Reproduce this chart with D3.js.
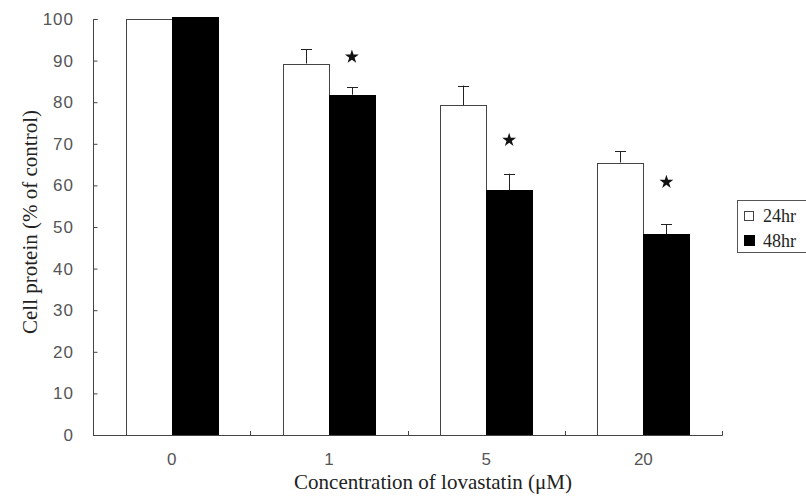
<!DOCTYPE html>
<html>
<head>
<meta charset="utf-8">
<script src="https://cdn.jsdelivr.net/npm/d3@7"></script>
<style>
  body { margin: 0; background: #fff; }
  .tick-label { font-family: "Liberation Sans", Arial, sans-serif; font-size: 17px; fill: #555; }
  .title { font-family: "Liberation Serif", "Times New Roman", serif; font-size: 21px; fill: #222; }
  .legend-text { font-family: "Liberation Serif", "Times New Roman", serif; font-size: 18px; fill: #222; }
</style>
</head>
<body>
<div id="chart"></div>
<script>
// Cell protein bar chart with error bars

const concentrations = ["0", "1", "5", "20"];
const series = ["24hr", "48hr"];
const values24 = [100, 89.3, 79.3, 65.5];
const values48 = [100.4, 81.8, 58.8, 48.2];
const errors24 = [0, 3.4, 4.7, 2.7];
const errors48 = [0, 1.8, 4.0, 2.5];
const starGroups = ["1", "5", "20"];
const starLevels = [90.9, 70.9, 60.8];
const yTicks = [0, 10, 20, 30, 40, 50, 60, 70, 80, 90, 100];

const W = 806, H = 501;
const plot = {left: 93, right: 722, top: 19, bottom: 435};

const svg = d3.select("#chart").append("svg")
  .attr("width", W)
  .attr("height", H);

const x0 = d3.scaleBand().domain(concentrations).range([plot.left, plot.right]).paddingInner(0).paddingOuter(0);
const x1 = d3.scaleBand().domain(series).range([0, x0.bandwidth()]).paddingInner(0).paddingOuter(0.707);
const y = d3.scaleLinear().domain([0, 100]).range([plot.bottom, plot.top]);

// rows for each bar
const bars = [];
concentrations.forEach((c, i) => {
  bars.push({ c: c, s: "24hr", v: values24[i], e: errors24[i] });
  bars.push({ c: c, s: "48hr", v: values48[i], e: errors48[i] });
});

const barMid = d => x0(d.c) + x1(d.s) + x1.bandwidth() / 2;

// error bars (drawn first, only upward part visible)
const errs = bars.filter(d => d.e > 0);
svg.selectAll(".err")
  .data(errs)
  .enter().append("line")
    .attr("x1", d => Math.round(barMid(d)) + 0.5)
    .attr("x2", d => Math.round(barMid(d)) + 0.5)
    .attr("y1", d => y(d.v))
    .attr("y2", d => y(d.v + d.e))
    .attr("stroke", "#222")
    .attr("stroke-width", 1);
svg.selectAll(".cap")
  .data(errs)
  .enter().append("line")
    .attr("x1", d => Math.round(barMid(d)) - 5)
    .attr("x2", d => Math.round(barMid(d)) + 6)
    .attr("y1", d => Math.round(y(d.v + d.e)) + 0.5)
    .attr("y2", d => Math.round(y(d.v + d.e)) + 0.5)
    .attr("stroke", "#222")
    .attr("stroke-width", 1);

// bars
svg.selectAll(".bar")
  .data(bars)
  .enter().append("rect")
    .attr("x", d => Math.round(x0(d.c) + x1(d.s)) + 0.5)
    .attr("y", d => Math.round(y(d.v)) + 0.5)
    .attr("width", Math.round(x1.bandwidth()))
    .attr("height", d => Math.round(y(0) - y(d.v)))
    .attr("fill", d => d.s === "24hr" ? "#fff" : "#000")
    .attr("stroke", d => d.s === "24hr" ? "#444" : "#000")
    .attr("stroke-width", 1);

// significance stars
svg.selectAll(".star")
  .data(starGroups)
  .enter().append("path")
    .attr("d", d3.symbol().type(d3.symbolStar).size(60))
    .attr("transform", (d, i) => `translate(${x0(d) + x1("48hr") + x1.bandwidth() / 2},${y(starLevels[i])})`)
    .attr("fill", "#111");

// y axis
const yAxis = svg.append("g")
  .attr("transform", `translate(${plot.left + 0.5},0)`)
  .call(d3.axisRight(y).tickValues(yTicks).tickSize(4).tickFormat(""));
yAxis.select(".domain").attr("stroke", "#444").attr("d", `M4,${plot.top + 0.5}H0V${plot.bottom}`);
yAxis.selectAll(".tick line").attr("stroke", "#444");

svg.selectAll(".ylab")
  .data(yTicks)
  .enter().append("text")
    .attr("class", "tick-label")
    .attr("x", 74)
    .attr("y", d => y(d) + 6)
    .attr("text-anchor", "end")
    .style("letter-spacing", "1px")
    .text(d => d);

// x axis line with separator ticks
svg.append("line")
  .attr("x1", plot.left).attr("x2", plot.right + 0.5)
  .attr("y1", plot.bottom + 0.5).attr("y2", plot.bottom + 0.5)
  .attr("stroke", "#444");
svg.selectAll(".xsep")
  .data(concentrations)
  .enter().append("line")
    .attr("x1", d => Math.round(x0(d) + x0.bandwidth()) + 0.5)
    .attr("x2", d => Math.round(x0(d) + x0.bandwidth()) + 0.5)
    .attr("y1", plot.bottom + 0.5)
    .attr("y2", plot.bottom - 4)
    .attr("stroke", "#444");

svg.selectAll(".xlab")
  .data(concentrations)
  .enter().append("text")
    .attr("class", "tick-label")
    .attr("x", d => x0(d) + x0.bandwidth() / 2)
    .attr("y", 465)
    .attr("text-anchor", "middle")
    .text(d => d);

// axis titles
svg.append("text")
  .attr("class", "title")
  .attr("text-anchor", "middle")
  .attr("x", 433)
  .attr("y", 489)
  .text("Concentration of lovastatin (\u03bcM)");

svg.append("text")
  .attr("class", "title")
  .attr("text-anchor", "middle")
  .attr("transform", `translate(37,222) rotate(-90)`)
  .text("Cell protein (% of control)");

// legend
const lg = svg.append("g").attr("transform", "translate(737,200)");
lg.append("rect")
  .attr("x", 0.5).attr("y", 0.5)
  .attr("width", 80).attr("height", 52)
  .attr("fill", "#fff")
  .attr("stroke", "#555");
series.forEach((s, i) => {
  const cy = 16 + i * 25;
  lg.append("rect")
    .attr("x", i === 0 ? 7.5 : 7).attr("y", i === 0 ? cy - 4.5 : cy - 6)
    .attr("width", i === 0 ? 9 : 11).attr("height", i === 0 ? 9 : 11)
    .attr("fill", i === 0 ? "#fff" : "#000")
    .attr("stroke", i === 0 ? "#444" : "none");
  lg.append("text")
    .attr("class", "legend-text")
    .attr("x", 26)
    .attr("y", cy + 6)
    .text(s);
});
</script>
</body>
</html>
